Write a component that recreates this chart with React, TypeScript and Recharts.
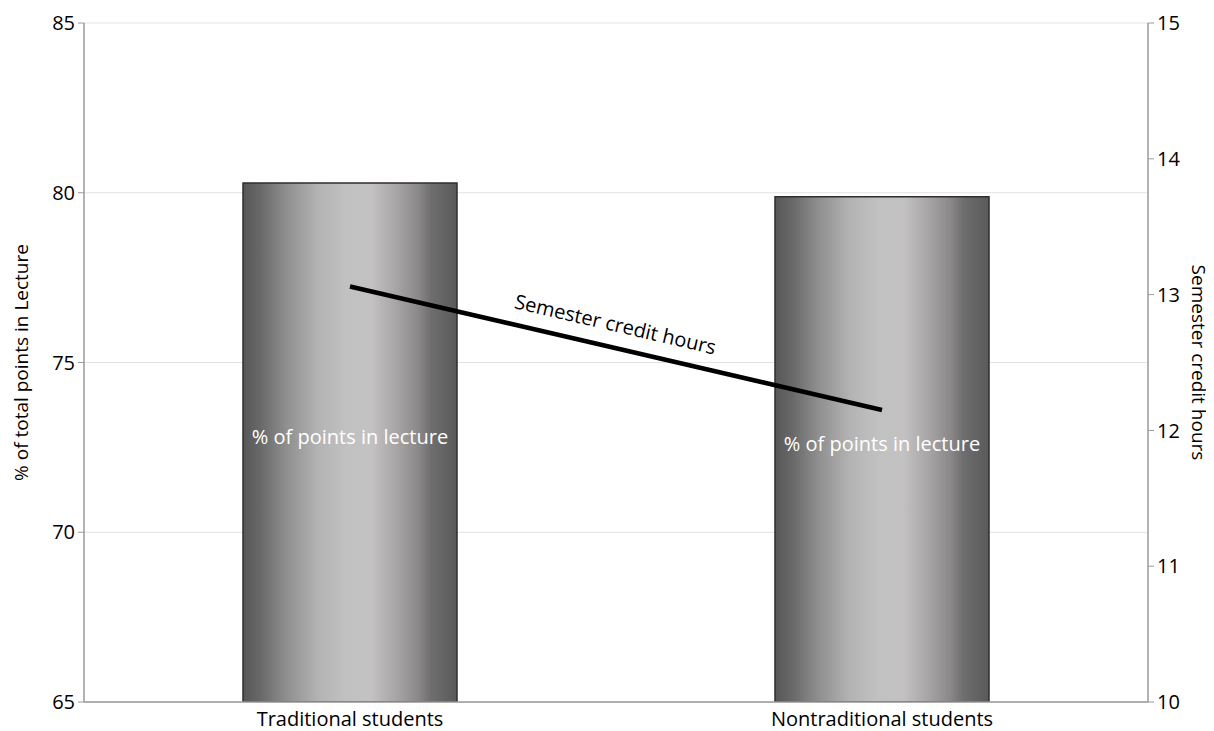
import React from 'react';
import { ComposedChart, Bar, Line, XAxis, YAxis, CartesianGrid, LabelList, Label } from 'recharts';

const categories = ['Traditional students', 'Nontraditional students'];
const lecturePct = [80.29, 79.88];
const creditHours = [13.06, 12.15];
const leftTicks = [65, 70, 75, 80, 85];
const rightTicks = [10, 11, 12, 13, 14, 15];
const barLabel = '% of points in lecture';
const lineLabel = 'Semester credit hours';

const data = categories.map((name, i) => ({ name, pct: lecturePct[i], hours: creditHours[i] }));

const AXIS = '#9a9a9a';
const FONT = '"Open Sans", "Noto Sans", sans-serif';

let firstPoint: { x: number; y: number } | null = null;

const LineTextLabel = (props: any) => {
  const { x, y, index } = props;
  if (index === 0) {
    firstPoint = { x, y };
    return null;
  }
  if (!firstPoint) return null;
  const mx = (firstPoint.x + x) / 2;
  const my = (firstPoint.y + y) / 2;
  const ang = (Math.atan2(y - firstPoint.y, x - firstPoint.x) * 180) / Math.PI;
  return (
    <g transform={`translate(${mx},${my}) rotate(${ang})`}>
      <text x={-6} y={-16} textAnchor="middle" fontSize={20} fill="#000" fontFamily={FONT}>
        {lineLabel}
      </text>
    </g>
  );
};

const BarTextLabel = (props: any) => {
  const { x, y, width, height } = props;
  return (
    <text
      x={x + width / 2}
      y={y + height / 2 - 6}
      textAnchor="middle"
      dominantBaseline="central"
      fontSize={20}
      fill="#ffffff"
      fontFamily={FONT}
    >
      {barLabel}
    </text>
  );
};

export default function App() {
  return (
    <div style={{ width: 1206, height: 723, fontFamily: FONT, background: '#fff', position: 'relative' }}>
      <svg width={0} height={0} style={{ position: 'absolute' }}>
        <defs>
          <linearGradient id="barGrad" x1="0" y1="0" x2="1" y2="0">
            <stop offset="0%" stopColor="#575757" />
            <stop offset="8%" stopColor="#686868" />
            <stop offset="20%" stopColor="#8e8e8e" />
            <stop offset="35%" stopColor="#b3b3b3" />
            <stop offset="48%" stopColor="#c2c1c2" />
            <stop offset="60%" stopColor="#c3c1c2" />
            <stop offset="72%" stopColor="#a6a4a5" />
            <stop offset="82%" stopColor="#8a8889" />
            <stop offset="88%" stopColor="#6f6e6f" />
            <stop offset="100%" stopColor="#595959" />
          </linearGradient>
        </defs>
      </svg>
      <ComposedChart width={1206} height={723} data={data} margin={{ top: 15, right: 0, bottom: 0, left: 0 }}>
        <CartesianGrid xAxisId="bottom" yAxisId="left" vertical={false} stroke="#e2e2e2" strokeWidth={1} />
        <Bar
          xAxisId="bottom"
          yAxisId="left"
          dataKey="pct"
          barSize={214}
          fill="url(#barGrad)"
          stroke="#2e2e2e"
          strokeWidth={1.5}
          isAnimationActive={false}
        >
          <LabelList dataKey="pct" content={BarTextLabel} />
        </Bar>
        <Line
          xAxisId="bottom"
          yAxisId="right"
          dataKey="hours"
          stroke="#000"
          strokeWidth={4.5}
          dot={false}
          activeDot={false}
          isAnimationActive={false}
        >
          <LabelList dataKey="hours" content={LineTextLabel} />
        </Line>
        <XAxis
          xAxisId="bottom"
          dataKey="name"
          height={29}
          interval={0}
          tickLine={false}
          tickSize={6}
          tickMargin={4}
          axisLine={{ stroke: AXIS, strokeWidth: 1.5 }}
          tick={{ fontSize: 20, fill: '#000' }}
        />
        <XAxis
          xAxisId="top"
          orientation="top"
          dataKey="name"
          height={0}
          tick={false}
          tickLine={false}
          axisLine={{ stroke: AXIS, strokeWidth: 1.5 }}
        />
        <YAxis
          yAxisId="left"
          domain={[65, 85]}
          ticks={leftTicks}
          interval={0}
          width={76}
          tickSize={6}
          tickMargin={3}
          allowDataOverflow
          axisLine={{ stroke: AXIS, strokeWidth: 1.5 }}
          tickLine={{ stroke: AXIS }}
          tick={{ fontSize: 20, fill: '#000' }}
        >
          <Label
            content={(p: any) => {
              const vb = p.viewBox;
              const cx = vb.x + 13;
              const cy = vb.y + vb.height / 2;
              return (
                <text
                  x={cx}
                  y={cy}
                  transform={`rotate(-90 ${cx} ${cy})`}
                  textAnchor="middle"
                  dominantBaseline="central"
                  fontSize={19}
                  fill="#000"
                  fontFamily={FONT}
                >
                  % of total points in Lecture
                </text>
              );
            }}
          />
        </YAxis>
        <YAxis
          yAxisId="right"
          orientation="right"
          domain={[10, 15]}
          ticks={rightTicks}
          interval={0}
          width={66}
          tickSize={6}
          tickMargin={3}
          allowDataOverflow
          axisLine={{ stroke: AXIS, strokeWidth: 1.5 }}
          tickLine={{ stroke: AXIS }}
          tick={{ fontSize: 20, fill: '#000' }}
        >
          <Label
            content={(p: any) => {
              const vb = p.viewBox;
              const cx = vb.x + 51;
              const cy = vb.y + vb.height / 2;
              return (
                <text
                  x={cx}
                  y={cy}
                  transform={`rotate(90 ${cx} ${cy})`}
                  textAnchor="middle"
                  dominantBaseline="central"
                  fontSize={19}
                  fill="#000"
                  fontFamily={FONT}
                >
                  Semester credit hours
                </text>
              );
            }}
          />
        </YAxis>
      </ComposedChart>
    </div>
  );
}
